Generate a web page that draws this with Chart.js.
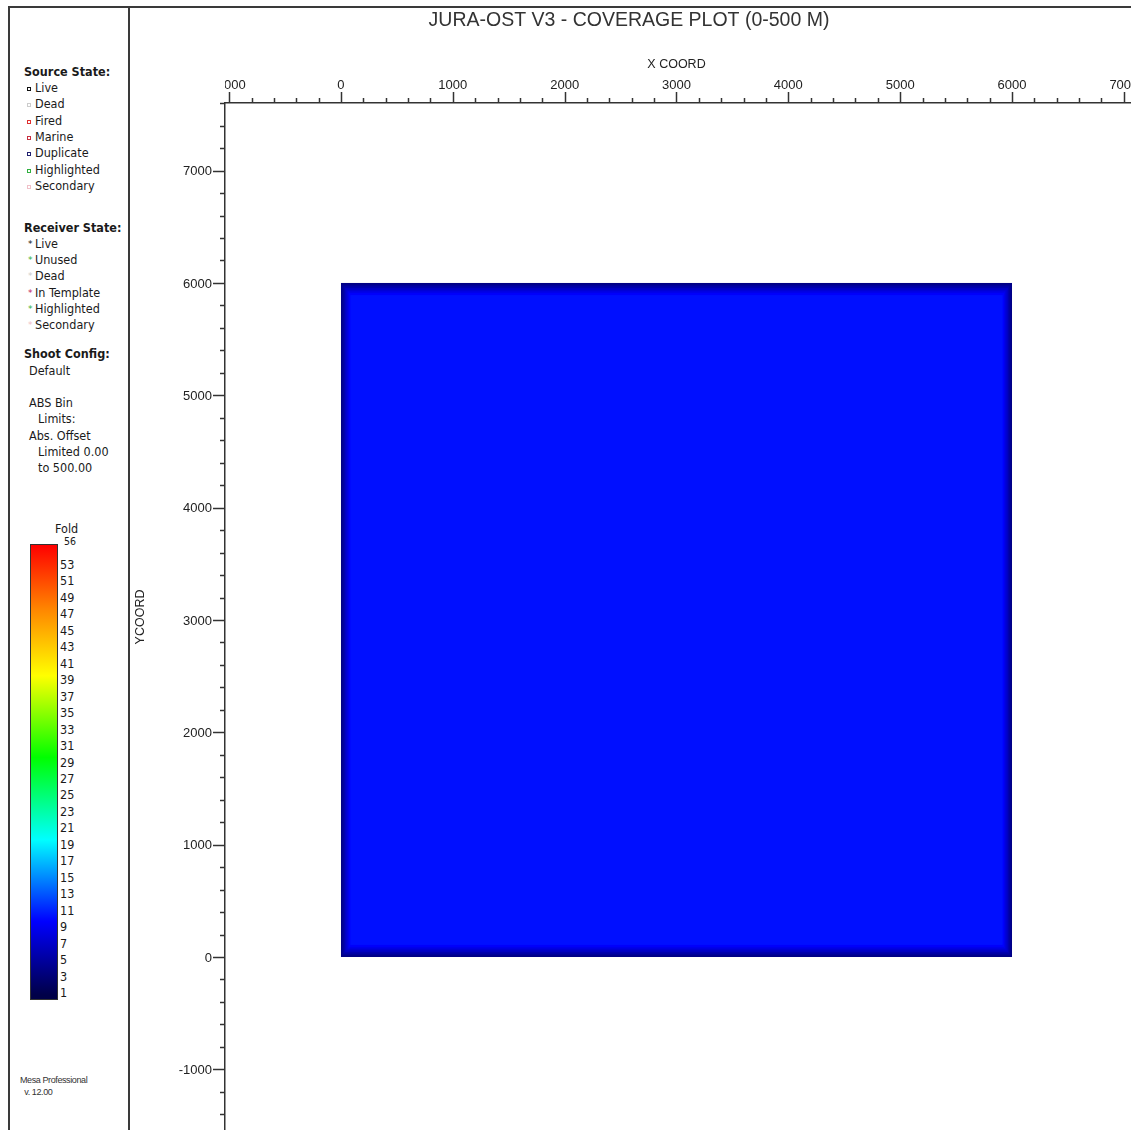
<!DOCTYPE html>
<html>
<head>
<meta charset="utf-8">
<script src="https://cdn.jsdelivr.net/npm/chart.js@4.4.1/dist/chart.umd.min.js"></script>
<style>
  html, body { margin:0; padding:0; background:#fff; }
  body { width:1131px; height:1130px; position:relative; overflow:hidden; }
  #frame { position:absolute; left:8px; top:6px; width:1200px; height:1200px;
           border-top:2px solid #3a3a3a; border-left:2px solid #3a3a3a; }
  #panel { position:absolute; left:8px; top:6px; width:120px; height:1200px;
           border-right:2px solid #3a3a3a; }
  .lg { position:absolute; font-family:"DejaVu Sans Condensed","DejaVu Sans",sans-serif;
        font-size:12.5px; line-height:16px; color:#1a1a1a; white-space:nowrap; }
  .lg.b { font-weight:bold; }
  .mk { position:absolute; width:3px; height:3px; }
  .ast { position:absolute; font-family:"DejaVu Sans",sans-serif; font-size:9px; line-height:9px; }
  #cbar { position:absolute; left:30px; width:26px; border:1px solid #333; }
  .cl { position:absolute; left:60px; font-family:"DejaVu Sans Condensed","DejaVu Sans",sans-serif;
        font-size:12.5px; line-height:14px; color:#1a1a1a; transform:translateY(-50%); }
  #wrap { position:absolute; left:131px; top:0; width:1000px; height:1130px; }
</style>
</head>
<body>
<div id="frame"></div>
<div id="panel"></div>
<div id="legend"></div>
<div id="wrap"><canvas id="cov" width="1000" height="1130"></canvas></div>
<script>
// ============= DATA =============
const chartTitle = 'JURA-OST V3 - COVERAGE PLOT (0-500 M)';
const xTitle = 'X COORD';
const yTitle = 'YCOORD';

// survey extent (m)
const surveyX = [0, 6000];
const surveyY = [0, 6000];

// fold tapers toward the edge of the patch (inset in m, fold)
const ringInsetX = [0, 12, 24, 36, 48, 60, 72, 84];
const ringInsetY = [0, 15, 30, 45, 60, 75, 90, 108];
const ringFold   = [4, 5, 6, 7, 8, 9, 9.8, 10.6];

// axis ranges and tick labels
const xRange = [-1037, 7064];
const yRange = [-1540, 7602];
const xMajor = [-1000, 0, 1000, 2000, 3000, 4000, 5000, 6000, 7000];
const yMajor = [-1000, 0, 1000, 2000, 3000, 4000, 5000, 6000, 7000];
const minorStep = 200;

// colour scale (fold -> colour)
const foldStops  = [1, 10, 20, 30, 40, 48, 56];
const foldColors = ['#000048', '#0000ff', '#00ffff', '#00ff00', '#ffff00', '#ff8800', '#ff0000'];
const foldLabels = [53, 51, 49, 47, 45, 43, 41, 39, 37, 35, 33, 31, 29, 27, 25, 23, 21, 19, 17, 15, 13, 11, 9, 7, 5, 3, 1];
const foldMax = 56, foldMin = 0.5;

// legend text
const sourceStates = [['Live','#111'],['Dead','#ccc'],['Fired','#e03030'],['Marine','#c83040'],['Duplicate','#202070'],['Highlighted','#30b040'],['Secondary','#f0c0c8']];
const receiverStates = [['Live','#111'],['Unused','#30b040'],['Dead','#ccc'],['In Template','#c02060'],['Highlighted','#30b040'],['Secondary','#f0c0c8']];

// ============= HELPERS =============
function hexToRgb(h){ return [1,3,5].map(i => parseInt(h.substr(i,2),16)); }
function foldColor(v){
  if (v <= foldStops[0]) return foldColors[0];
  for (let i=1;i<foldStops.length;i++){
    if (v <= foldStops[i]){
      const t = (v-foldStops[i-1])/(foldStops[i]-foldStops[i-1]);
      const a = hexToRgb(foldColors[i-1]), b = hexToRgb(foldColors[i]);
      const c = a.map((x,k)=>Math.round(x+(b[k]-x)*t));
      return `rgb(${c[0]},${c[1]},${c[2]})`;
    }
  }
  return foldColors[foldColors.length-1];
}

// ============= LEFT PANEL =============
const legend = document.getElementById('legend');
function addText(txt, x, yc, bold){
  const d = document.createElement('div');
  d.className = 'lg' + (bold ? ' b' : '');
  d.textContent = txt;
  d.style.left = x + 'px';
  d.style.top = (yc - 8) + 'px';
  legend.appendChild(d);
}
addText('Source State:', 24, 72, true);
sourceStates.forEach((s,i) => {
  const yc = 88 + i*16.3;
  addText(s[0], 35, yc);
  const m = document.createElement('div');
  m.className = 'mk';
  m.style.left = '27px'; m.style.top = (yc-1) + 'px';
  m.style.border = '1px solid ' + s[1];
  m.style.width = '2px'; m.style.height = '2px';
  legend.appendChild(m);
});
addText('Receiver State:', 24, 228, true);
receiverStates.forEach((s,i) => {
  const yc = 244 + i*16.2;
  addText(s[0], 35, yc);
  const m = document.createElement('div');
  m.className = 'ast';
  m.textContent = '*';
  m.style.left = '28px'; m.style.top = (yc-4) + 'px';
  m.style.color = s[1];
  legend.appendChild(m);
});
addText('Shoot Config:', 24, 354, true);
addText('Default', 29, 371);
addText('ABS Bin', 29, 403);
addText('Limits:', 38, 419);
addText('Abs. Offset', 29, 436);
addText('Limited 0.00', 38, 452);
addText('to 500.00', 38, 468);
addText('Fold', 55, 529);

// colour bar
const barTop = 544, barBottom = 998;
const yOfFold = v => 565 + (53 - v) * (993 - 565) / 52;
const cbar = document.createElement('div');
cbar.id = 'cbar';
cbar.style.top = barTop + 'px';
cbar.style.height = (barBottom - barTop) + 'px';
const grad = foldStops.map((f,i) => `${foldColors[i]} ${((f - foldMin)/(foldMax - foldMin)*100).toFixed(1)}%`).join(', ');
cbar.style.background = `linear-gradient(to top, ${grad})`;
legend.appendChild(cbar);
const topLab = document.createElement('div');
topLab.className = 'cl';
topLab.style.fontSize = '10.5px';
topLab.style.left = '64px';
topLab.style.top = '541px';
topLab.textContent = String(foldMax);
legend.appendChild(topLab);
foldLabels.forEach(v => {
  const d = document.createElement('div');
  d.className = 'cl';
  d.style.top = yOfFold(v) + 'px';
  d.textContent = v;
  legend.appendChild(d);
});
const ver = document.createElement('div');
ver.style.cssText = 'position:absolute;left:20px;top:1074px;font:9px "Liberation Sans",Arial,sans-serif;letter-spacing:-0.4px;color:#333;line-height:12px;';
ver.innerHTML = 'Mesa Professional<br>&nbsp;&nbsp;v. 12.00';
legend.appendChild(ver);

// ============= CHART =============
const coveragePlugin = {
  id: 'coverage',
  beforeDatasetsDraw(chart){
    const {ctx, chartArea, scales:{x, y}} = chart;
    ctx.save();
    ctx.beginPath();
    ctx.rect(chartArea.left, chartArea.top, chartArea.right-chartArea.left, chartArea.bottom-chartArea.top);
    ctx.clip();
    ringFold.forEach((f,i) => {
      const x0 = x.getPixelForValue(surveyX[0] + ringInsetX[i]);
      const x1 = x.getPixelForValue(surveyX[1] - ringInsetX[i]);
      const y0 = y.getPixelForValue(surveyY[1] - ringInsetY[i]);
      const y1 = y.getPixelForValue(surveyY[0] + ringInsetY[i]);
      ctx.fillStyle = foldColor(f);
      ctx.fillRect(x0, y0, x1-x0, y1-y0);
    });
    ctx.restore();
  },
  afterDraw(chart){
    const {ctx, chartArea, scales:{x, y}} = chart;
    ctx.save();
    ctx.strokeStyle = '#333';
    ctx.lineWidth = 1.5;
    ctx.fillStyle = '#222';
    ctx.font = '13px "Liberation Sans", Arial, sans-serif';
    // x ticks (top)
    for (let v = xMajor[0]; v <= xRange[1]; v += minorStep){
      const px = Math.round(x.getPixelForValue(v)) + 0.5;
      if (px < chartArea.left) continue;
      const major = xMajor.includes(v);
      ctx.beginPath();
      ctx.moveTo(px, chartArea.top);
      ctx.lineTo(px, chartArea.top - (major ? 11 : 5));
      ctx.stroke();
    }
    ctx.save();
    ctx.beginPath();
    ctx.rect(chartArea.left, 0, chart.width - chartArea.left, chartArea.top);
    ctx.clip();
    ctx.textAlign = 'center';
    ctx.textBaseline = 'middle';
    xMajor.forEach(v => ctx.fillText(String(v), x.getPixelForValue(v), 85));
    ctx.restore();
    // y ticks (left)
    for (let v = -1400; v <= yRange[1]; v += minorStep){
      const py = Math.round(y.getPixelForValue(v)) + 0.5;
      const major = yMajor.includes(v);
      ctx.beginPath();
      ctx.moveTo(chartArea.left, py);
      ctx.lineTo(chartArea.left - (major ? 12 : 5), py);
      ctx.stroke();
    }
    ctx.textAlign = 'right';
    ctx.textBaseline = 'middle';
    yMajor.forEach(v => ctx.fillText(String(v), chartArea.left - 13, y.getPixelForValue(v) + 1));
    // titles
    ctx.font = '12.5px "Liberation Sans", Arial, sans-serif';
    ctx.textAlign = 'center';
    ctx.fillText(xTitle, x.getPixelForValue(3000), 65);
    ctx.save();
    ctx.translate(10, 617);
    ctx.rotate(-Math.PI/2);
    ctx.fillText(yTitle, 0, 0);
    ctx.restore();
    ctx.font = '19.5px "Liberation Sans", Arial, sans-serif';
    ctx.fillStyle = '#333';
    ctx.fillText(chartTitle, 498, 21);
    ctx.restore();
  }
};

new Chart(document.getElementById('cov'), {
  type: 'scatter',
  data: { datasets: [{ label: 'Coverage', data: [], pointRadius: 0 }] },
  options: {
    responsive: false,
    animation: false,
    layout: { padding: 0 },
    plugins: { legend: { display: false }, tooltip: { enabled: false } },
    scales: {
      x: {
        type: 'linear', position: 'top', min: xRange[0], max: xRange[1],
        ticks: { display: false }, grid: { display: false },
        border: { display: true, color: '#333', width: 1.5 },
        afterFit: s => { s.height = 103; }
      },
      y: {
        type: 'linear', position: 'left', min: yRange[0], max: yRange[1],
        ticks: { display: false }, grid: { display: false },
        border: { display: true, color: '#333', width: 1.5 },
        afterFit: s => { s.width = 94; }
      }
    }
  },
  plugins: [coveragePlugin]
});
</script>
</body>
</html>
